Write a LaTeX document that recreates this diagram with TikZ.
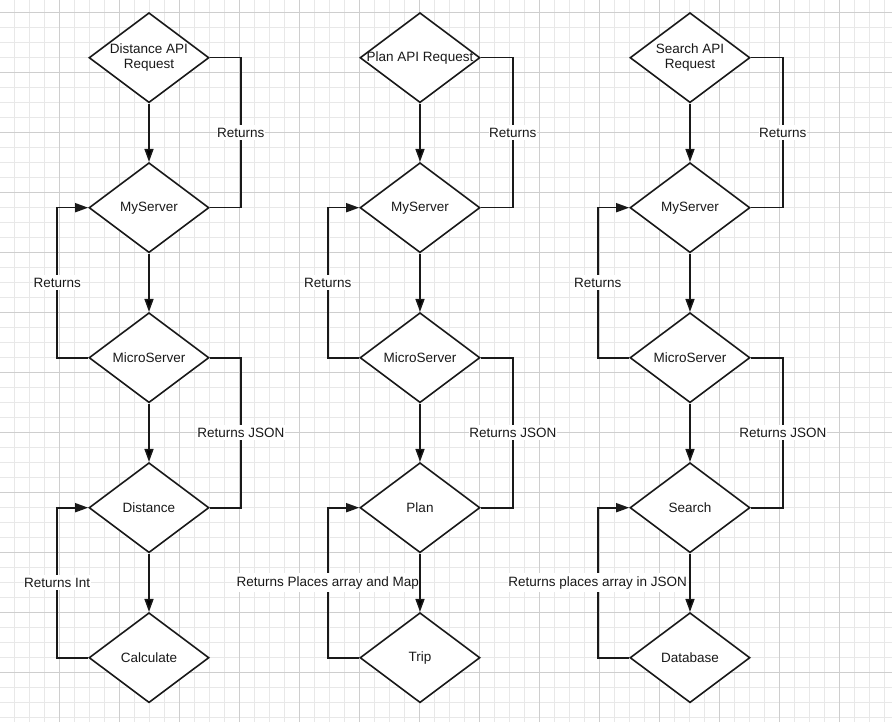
\documentclass[tikz,border=0pt]{standalone}
\usepackage{fontspec}
\setmainfont{Liberation Sans}
\usetikzlibrary{shapes.geometric,positioning,arrows.meta}

\definecolor{gridminor}{RGB}{232,232,232}
\definecolor{gridmajor}{RGB}{206,206,206}
\definecolor{ink}{RGB}{25,25,25}

\begin{document}
\begin{tikzpicture}[x=1pt,y=1pt,node distance=150pt,on grid,
  >={Triangle[length=13pt,width=9pt]},
  decision/.style={diamond,draw=ink,fill=white,line width=1.6pt,
    minimum width=120pt,minimum height=90pt,aspect=1.33,inner sep=0pt,
    align=center,text=ink,font=\fontsize{13.5}{15}\selectfont},
  flow/.style={draw=ink,line width=1.6pt},
  tag/.style={fill=white,inner xsep=0.5pt,inner ysep=3pt,anchor=center,text=ink,
    font=\fontsize{13.5}{15}\selectfont}]

% paper and grid
\fill[white] (0,0) rectangle (892,-722);
\useasboundingbox (0,0) rectangle (892,-722);
\foreach \gx in {0,...,58}
  \draw[gridminor,line width=.8pt] (14.3+15*\gx,0) -- (14.3+15*\gx,-722);
\foreach \gy in {0,...,47}
  \draw[gridminor,line width=.8pt] (0,-12.7-15*\gy) -- (892,-12.7-15*\gy);
\foreach \gx in {0,...,13}
  \draw[gridmajor,line width=.8pt] (59.3+60*\gx,0) -- (59.3+60*\gx,-722);
\foreach \gy in {0,...,11}
  \draw[gridmajor,line width=.8pt] (0,-12.7-60*\gy) -- (892,-12.7-60*\gy);

% distance column
\node[decision] (d_req) at (149,-57.7) {Distance API\\Request};
\node[decision] (d_my) [below=of d_req] {MyServer};
\node[decision] (d_micro) [below=of d_my] {MicroServer};
\node[decision] (d_dist) [below=of d_micro] {Distance};
\node[decision] (d_calc) [below=of d_dist] {Calculate};

% plan column
\node[decision] (p_req) at (420,-57.7) {\makebox[0pt]{Plan API Request}};
\node[decision] (p_my) [below=of p_req] {MyServer};
\node[decision] (p_micro) [below=of p_my] {MicroServer};
\node[decision] (p_plan) [below=of p_micro] {Plan};
\node[decision] (p_trip) [below=of p_plan] {Trip};

% search column
\node[decision] (s_req) at (690,-57.7) {Search API\\Request};
\node[decision] (s_my) [below=of s_req] {MyServer};
\node[decision] (s_micro) [below=of s_my] {MicroServer};
\node[decision] (s_search) [below=of s_micro] {Search};
\node[decision] (s_db) [below=of s_search] {Database};

\path[flow,->]
(d_req) edge (d_my)
(d_my) edge (d_micro)
(d_micro) edge (d_dist)
(d_dist) edge (d_calc)

(p_req) edge (p_my)
(p_my) edge (p_micro)
(p_micro) edge (p_plan)
(p_plan) edge (p_trip)

(s_req) edge (s_my)
(s_my) edge (s_micro)
(s_micro) edge (s_search)
(s_search) edge (s_db)
; %end path

% returns on the right
\draw[flow] (d_req.east) -- ++(31,0) |- node[tag,pos=.25] {Returns} (d_my.east);
\draw[flow] (d_micro.east) -- ++(31,0) |- node[tag,pos=.25] {Returns JSON} (d_dist.east);
\draw[flow] (p_req.east) -- ++(32,0) |- node[tag,pos=.25] {Returns} (p_my.east);
\draw[flow] (p_micro.east) -- ++(32,0) |- node[tag,pos=.25] {Returns JSON} (p_plan.east);
\draw[flow] (s_req.east) -- ++(32,0) |- node[tag,pos=.25] {Returns} (s_my.east);
\draw[flow] (s_micro.east) -- ++(32,0) |- node[tag,pos=.25] {Returns JSON} (s_search.east);

% returns on the left
\draw[flow,->] (d_micro.west) -- ++(-31,0) |- node[tag,pos=.25] {Returns} (d_my.west);
\draw[flow,->] (d_calc.west) -- ++(-31,0) |- node[tag,pos=.25] {Returns Int} (d_dist.west);
\draw[flow,->] (p_micro.west) -- ++(-31.5,0) |- node[tag,pos=.25] {Returns} (p_my.west);
\draw[flow,->] (p_trip.west) -- ++(-31.5,0) |- node[tag,pos=.25] {Returns Places array and Map} (p_plan.west);
\draw[flow,->] (s_micro.west) -- ++(-31.5,0) |- node[tag,pos=.25] {Returns} (s_my.west);
\draw[flow,->] (s_db.west) -- ++(-31.5,0) |- node[tag,pos=.25] {Returns places array in JSON} (s_search.west);
\end{tikzpicture}
\end{document}
